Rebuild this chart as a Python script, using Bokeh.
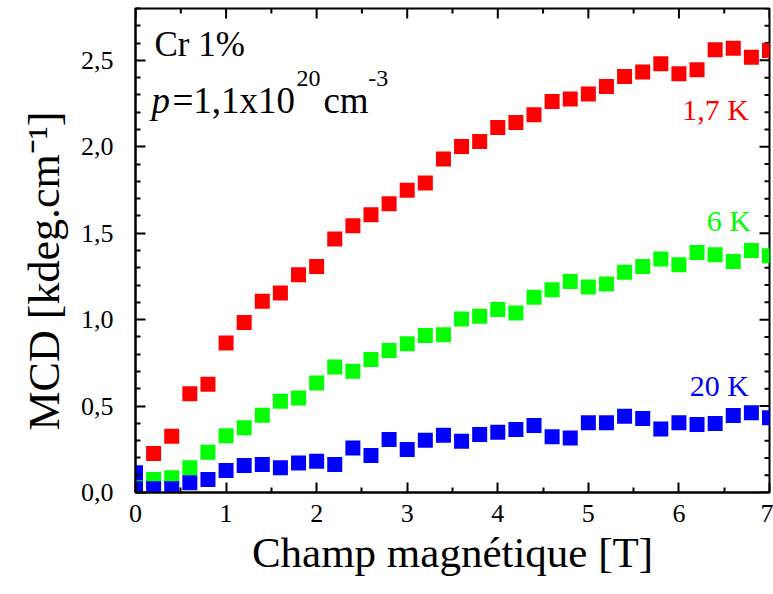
from bokeh.plotting import figure
from bokeh.models import Range1d, FixedTicker, Label, Title
from bokeh.embed import file_html
from bokeh.resources import INLINE

# ---------------- data ----------------
field_red = [0.2, 0.4, 0.6, 0.8, 1.0, 1.2, 1.4, 1.6, 1.8, 2.0, 2.2, 2.4, 2.6, 2.8, 3.0,
             3.2, 3.4, 3.6, 3.8, 4.0, 4.2, 4.4, 4.6, 4.8, 5.0, 5.2, 5.4, 5.6, 5.8, 6.0,
             6.2, 6.4, 6.6, 6.8, 7.0]
mcd_1_7K = [0.225, 0.325, 0.572, 0.626, 0.865, 0.984, 1.106, 1.154, 1.260, 1.308,
            1.466, 1.543, 1.607, 1.671, 1.748, 1.790, 1.929, 2.002, 2.031, 2.112,
            2.141, 2.185, 2.262, 2.276, 2.305, 2.349, 2.407, 2.432, 2.480, 2.422,
            2.445, 2.561, 2.570, 2.518, 2.557]

field_green = [0.0, 0.2, 0.4, 0.6, 0.8, 1.0, 1.2, 1.4, 1.6, 1.8, 2.0, 2.2, 2.4, 2.6, 2.8,
               3.0, 3.2, 3.4, 3.6, 3.8, 4.0, 4.2, 4.4, 4.6, 4.8, 5.0, 5.2, 5.4, 5.6, 5.8,
               6.0, 6.2, 6.4, 6.6, 6.8, 7.0]
mcd_6K = [0.050, 0.075, 0.085, 0.143, 0.233, 0.329, 0.374, 0.447, 0.528, 0.547,
          0.634, 0.726, 0.701, 0.769, 0.821, 0.861, 0.908, 0.913, 1.004, 1.019,
          1.058, 1.039, 1.129, 1.173, 1.221, 1.189, 1.206, 1.274, 1.308, 1.351,
          1.318, 1.389, 1.376, 1.337, 1.400, 1.370]

field_blue = [0.0, 0.0, 0.2, 0.4, 0.6, 0.8, 1.0, 1.2, 1.4, 1.6, 1.8, 2.0, 2.2, 2.4, 2.6,
              2.8, 3.0, 3.2, 3.4, 3.6, 3.8, 4.0, 4.2, 4.4, 4.6, 4.8, 5.0, 5.2, 5.4, 5.6,
              5.8, 6.0, 6.2, 6.4, 6.6, 6.8, 7.0]
mcd_20K = [0.021, 0.114, 0.021, 0.021, 0.056, 0.075, 0.127, 0.156, 0.162, 0.143,
           0.171, 0.181, 0.162, 0.258, 0.214, 0.306, 0.249, 0.302, 0.331, 0.297,
           0.335, 0.349, 0.364, 0.387, 0.322, 0.316, 0.403, 0.403, 0.441, 0.428,
           0.368, 0.403, 0.393, 0.399, 0.445, 0.461, 0.432]

x_ticks = [0, 1, 2, 3, 4, 5, 6, 7]
x_tick_labels = ["0", "1", "2", "3", "4", "5", "6", "7"]
x_minor_ticks = [0.5, 1.5, 2.5, 3.5, 4.5, 5.5, 6.5]
y_ticks = [0.0, 0.5, 1.0, 1.5, 2.0, 2.5]
y_tick_labels = ["0,0", "0,5", "1,0", "1,5", "2,0", "2,5"]
y_minor_ticks = [round(0.1 * i, 1) for i in range(29) if i % 5 != 0]

series_labels = ["1,7 K", "6 K", "20 K"]
series_colors = ["#ff0000", "#00ff00", "#0000ff"]

X_MIN, X_MAX = 0.0, 7.0
Y_MIN, Y_MAX = 0.0, 2.8
FONT = "Liberation Serif"

W, H = 773, 594
BL, BR, BT, BB = 135, 4, 8, 102
frame_w = W - BL - BR
frame_h = H - BT - BB
px_x = frame_w / (X_MAX - X_MIN)
px_y = frame_h / (Y_MAX - Y_MIN)

# ---------------- figure ----------------
p = figure(width=W, height=H, output_backend="svg", toolbar_location=None,
           x_range=Range1d(X_MIN, X_MAX), y_range=Range1d(Y_MIN, Y_MAX),
           x_axis_label="Champ magnétique [T]",
           min_border_left=BL, min_border_right=BR, min_border_top=BT,
           min_border_bottom=BB)
p.outline_line_color = "black"
p.outline_line_width = 2
p.xgrid.grid_line_color = None
p.ygrid.grid_line_color = None

for ax, tk, mt, lbls in ((p.xaxis[0], x_ticks, x_minor_ticks, x_tick_labels),
                         (p.yaxis[0], y_ticks, y_minor_ticks, y_tick_labels)):
    ax.ticker = FixedTicker(ticks=tk, minor_ticks=mt)
    ax.major_label_overrides = {t: s for t, s in zip(tk, lbls)}
    ax.axis_line_width = 2
    ax.axis_line_color = "black"
    ax.major_tick_in = 10
    ax.major_tick_out = 0
    ax.minor_tick_in = 5
    ax.minor_tick_out = 0
    ax.major_tick_line_width = 2
    ax.minor_tick_line_width = 2
    ax.major_tick_line_color = "black"
    ax.minor_tick_line_color = "black"
    ax.major_label_text_font = FONT
    ax.major_label_text_font_size = "26px"
    ax.major_label_text_color = "black"

p.xaxis[0].major_label_standoff = 12
p.yaxis[0].major_label_standoff = 22
p.xaxis[0].axis_label_text_font = FONT
p.xaxis[0].axis_label_text_font_size = "43px"
p.xaxis[0].axis_label_text_font_style = "normal"
p.xaxis[0].axis_label_text_color = "black"
p.xaxis[0].axis_label_standoff = 4

# y-axis title as a left-side title (rotated by Bokeh), starting near the bottom
ytitle = Title(text="MCD [kdeg.cm⁻¹]", align="left", offset=62,
               text_font=FONT, text_font_size="44px", text_font_style="normal",
               text_color="black", standoff=18)
p.add_layout(ytitle, "left")

# mirrored inside ticks on top and right edges, from the tick lists
def edge_ticks(values, length_px, horizontal_edge):
    if horizontal_edge:  # top edge
        p.segment(x0=values, y0=[Y_MAX] * len(values), x1=values,
                  y1=[Y_MAX - length_px / px_y] * len(values),
                  line_color="black", line_width=2)
    else:  # right edge
        p.segment(x0=[X_MAX] * len(values), y0=values,
                  x1=[X_MAX - length_px / px_x] * len(values), y1=values,
                  line_color="black", line_width=2)

edge_ticks(x_ticks, 10, True)
edge_ticks(x_minor_ticks, 5, True)
edge_ticks(y_ticks, 10, False)
edge_ticks(y_minor_ticks, 5, False)

# ---------------- data marks ----------------
for fx, fy, col in ((field_red, mcd_1_7K, series_colors[0]),
                    (field_green, mcd_6K, series_colors[1]),
                    (field_blue, mcd_20K, series_colors[2])):
    p.scatter(fx, fy, marker="square", size=15, fill_color=col, line_color=None)

# ---------------- annotations ----------------
def lab(x, y, text, size, color="black", style="normal", align="left"):
    p.add_layout(Label(x=x, y=y, text=text, text_font=FONT, text_font_size=size,
                       text_color=color, text_font_style=style, text_align=align,
                       text_baseline="alphabetic"))

lab(0.21, 2.59, "Cr 1%", "35px")
lab(0.177, 2.267, "p", "37px", style="italic")
lab(0.4085, 2.267, "=1,1x10", "37px")
lab(1.778, 2.395, "20", "24px")
lab(2.075, 2.267, "cm", "37px")
lab(2.57, 2.395, "-3", "24px")

lab(6.774, 2.217, series_labels[0], "30px", color=series_colors[0], align="right")
lab(6.796, 1.571, series_labels[1], "30px", color=series_colors[1], align="right")
lab(6.774, 0.617, series_labels[2], "30px", color=series_colors[2], align="right")

open("out.html", "w").write(file_html(p, INLINE))
